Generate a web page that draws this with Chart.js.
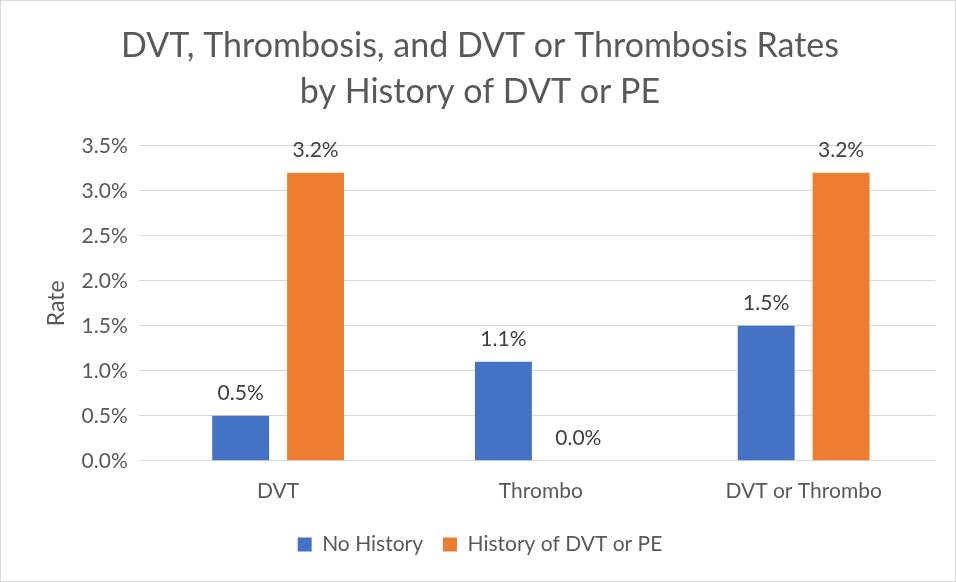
<!DOCTYPE html>
<html>
<head>
<meta charset="utf-8">
<script src="https://cdn.jsdelivr.net/npm/chart.js@4/dist/chart.umd.min.js"></script>
<style>
  html, body { margin:0; padding:0; background:#fff; }
  #wrap { width:954px; height:580px; border:1px solid #d9d9d9; position:relative; }
</style>
</head>
<body>
<div id="wrap"><canvas id="chart" width="954" height="580"></canvas></div>
<script>
const categories = ['DVT', 'Thrombo', 'DVT or Thrombo'];
const noHistory = [0.5, 1.1, 1.5];
const historyDvtPe = [3.2, 0.0, 3.2];
const seriesNames = ['No History', 'History of DVT or PE'];
const yTicks = [0, 0.5, 1.0, 1.5, 2.0, 2.5, 3.0, 3.5];

const txt = '#595959';
const fontFam = 'Lato, "Open Sans", sans-serif';

const valueLabels = {
    id: 'valueLabels',
    afterDatasetsDraw(chart){
        const ctx = chart.ctx;
        ctx.save();
        ctx.font = '21px ' + fontFam;
        ctx.fillStyle = '#404040';
        ctx.textAlign = 'center';
        ctx.textBaseline = 'bottom';
        chart.data.datasets.forEach((ds, i) => {
            chart.getDatasetMeta(i).data.forEach((bar, j) => {
                ctx.fillText(ds.data[j].toFixed(1) + '%', bar.x, bar.y - 12);
            });
        });
        ctx.restore();
    }
};

new Chart(document.getElementById('chart'), {
    type: 'bar',
    data: {
        labels: categories,
        datasets: [
            { label: seriesNames[0], data: noHistory, backgroundColor: '#4472C4', barPercentage: 0.76, categoryPercentage: 0.57 },
            { label: seriesNames[1], data: historyDvtPe, backgroundColor: '#ED7D31', barPercentage: 0.76, categoryPercentage: 0.57 }
        ]
    },
    options: {
        responsive: false,
        animation: false,
        layout: { padding: { left: 24, right: 20, top: 10, bottom: 16 } },
        plugins: {
            title: {
                display: true,
                text: ['DVT, Thrombosis, and DVT or Thrombosis Rates', 'by History of DVT or PE'],
                color: txt,
                font: { family: fontFam, size: 34, weight: 'normal', lineHeight: 1.35 },
                padding: { top: 12, bottom: 31 }
            },
            legend: {
                position: 'bottom',
                labels: {
                    color: txt,
                    font: { family: fontFam, size: 21 },
                    boxWidth: 14, boxHeight: 14, padding: 20
                }
            },
            tooltip: { enabled: false }
        },
        scales: {
            x: {
                grid: { display: false },
                border: { color: '#d9d9d9' },
                ticks: { color: txt, font: { family: fontFam, size: 21 }, padding: 10 }
            },
            y: {
                min: 0, max: 3.5,
                afterBuildTicks(axis){ axis.ticks = yTicks.map(v => ({ value: v })); },
                grid: { color: '#d9d9d9' },
                border: { display: false },
                ticks: { color: txt, font: { family: fontFam, size: 21 }, padding: 11, callback: v => v.toFixed(1) + '%' },
                title: { display: true, text: 'Rate', color: txt, font: { family: fontFam, size: 23 }, padding: { top: 18, bottom: 0 } }
            }
        }
    },
    plugins: [valueLabels]
});
</script>
</body>
</html>
